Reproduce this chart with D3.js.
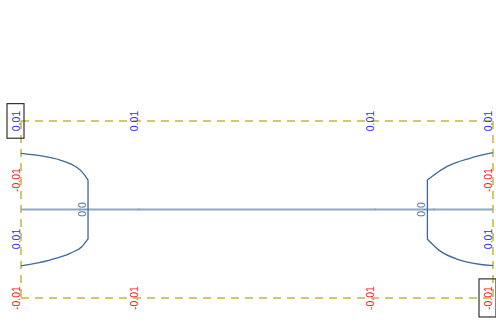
<!DOCTYPE html>
<html>
<head>
<meta charset="utf-8">
<script src="https://cdn.jsdelivr.net/npm/d3@7"></script>
<style>
  body { margin: 0; background: #fff; }
  svg { display: block; font-family: "Liberation Sans", Arial, sans-serif; }
</style>
</head>
<body>
<div id="chart"></div>
<script>
/*------------------- Data --------------------*/
const xDomain = [0, 100];
const yDomain = [-0.01, 0.01];

// columns carrying the top / bottom labels
const edgeTickX = [0, 25, 75, 100];
const topLabels = ["0.01", "0.01", "0.01", "0.01"];
const bottomLabels = ["-0.01", "-0.01", "-0.01", "-0.01"];

// small ticks on the zero line
const zeroTicks = [12.5, 25, 75, 87.5];

// left bracket: upper arc, lower arc (joined by a vertical segment)
const leftTopX = [0, 4.0, 8.3, 11.8, 13.2, 14.2];
const leftTopY = [0.00635, 0.00608, 0.00559, 0.00477, 0.00409, 0.00333];
const leftBotX = [14.2, 12.9, 10.4, 6.1, 0];
const leftBotY = [-0.00333, -0.0042, -0.00495, -0.00571, -0.00638];

// right bracket
const rightTopX = [100, 95.1, 90.2, 87.0, 86.1];
const rightTopY = [0.00642, 0.00579, 0.00484, 0.00371, 0.00333];
const rightBotX = [86.1, 88.6, 93.0, 100];
const rightBotY = [-0.00337, -0.00462, -0.00571, -0.00635];

// labels along the side edges
const sideLabelX = [0, 0, 100, 100];
const sideLabelY = [0.00333, -0.00333, 0.00333, -0.00333];
const sideLabels = ["-0.01", "0.01", "-0.01", "0.01"];

// labels on the zero line
const zeroLabelX = [14.2, 86.1];
const zeroLabels = ["0.0", "0.0"];

/*------------------- Setup --------------------*/
const width = 496, height = 322;
const margin = { top: 121, right: 3, bottom: 24, left: 21 };

const svg = d3.select("#chart").append("svg")
    .attr("width", width)
    .attr("height", height);

const x = d3.scaleLinear().domain(xDomain).range([margin.left, width - margin.right]);
const y = d3.scaleLinear().domain(yDomain).range([height - margin.bottom, margin.top]);

const dashColor = "#c8b43a";
const blue = "#2f2ff5";
const red = "#f52020";

/*------------------- Dashed frame --------------------*/
const frame = svg.append("g")
    .attr("fill", "none")
    .attr("stroke", dashColor)
    .attr("stroke-width", 1.5)
    .attr("stroke-dasharray", "8,6");

frame.append("line")
    .attr("x1", x(xDomain[0])).attr("x2", x(xDomain[1]))
    .attr("y1", y(yDomain[1])).attr("y2", y(yDomain[1]));
frame.append("line")
    .attr("x1", x(xDomain[0])).attr("x2", x(xDomain[1]))
    .attr("y1", y(yDomain[0])).attr("y2", y(yDomain[0]));
frame.append("line")
    .attr("x1", x(xDomain[0])).attr("x2", x(xDomain[0]))
    .attr("y1", y(yDomain[1])).attr("y2", y(yDomain[0]));
frame.append("line")
    .attr("x1", x(xDomain[1])).attr("x2", x(xDomain[1]))
    .attr("y1", y(yDomain[1])).attr("y2", y(yDomain[0]));

/*------------------- Zero line --------------------*/
svg.append("line")
    .attr("x1", x(xDomain[0])).attr("x2", x(xDomain[1]))
    .attr("y1", y(0)).attr("y2", y(0))
    .attr("stroke", "#8fa7c3")
    .attr("stroke-width", 2);

svg.selectAll(".ztick")
    .data(zeroTicks)
    .join("line")
    .attr("class", "ztick")
    .attr("x1", d => x(d)).attr("x2", d => x(d))
    .attr("y1", y(0) - 1.5).attr("y2", y(0) + 1.5)
    .attr("stroke", "#7f98b5")
    .attr("stroke-width", 0.6);

/*------------------- Curves --------------------*/
const arc = d3.line()
    .x(d => x(d[0]))
    .y(d => y(d[1]))
    .curve(d3.curveMonotoneX);

function bracket(topX, topY, botX, botY) {
    const top = d3.zip(topX, topY);
    const bot = d3.zip(botX, botY);
    // vertical joint from the end of the upper arc to the start of the lower arc
    const joint = "L" + x(bot[0][0]) + "," + y(bot[0][1]);
    svg.append("path")
        .attr("d", arc(top) + joint + arc(bot).replace(/^M/, "L"))
        .attr("fill", "none")
        .attr("stroke", "#3d6a98")
        .attr("stroke-width", 1.3);
}

bracket(leftTopX, leftTopY, leftBotX, leftBotY);
bracket(rightTopX, rightTopY, rightBotX, rightBotY);

/*------------------- Labels --------------------*/
function vLabel(px, py, text, color) {
    const g = svg.append("g")
        .attr("transform", `translate(${px - 1},${py}) rotate(-90)`);
    g.append("text")
        .attr("text-anchor", "middle")
        .attr("font-size", 10.5)
        .attr("fill", color)
        .text(text);
    return g;
}

const topGroups = edgeTickX.map((d, i) => vLabel(x(d), y(yDomain[1]), topLabels[i], blue));
const bottomGroups = edgeTickX.map((d, i) => vLabel(x(d), y(yDomain[0]), bottomLabels[i], red));

sideLabels.forEach((t, i) => {
    vLabel(x(sideLabelX[i]), y(sideLabelY[i]), t, t.startsWith("-") ? red : blue);
});

zeroLabels.forEach((t, i) => {
    vLabel(x(zeroLabelX[i]) - 1, y(0), t, "#557799");
});

/*------------------- Highlight boxes --------------------*/
function boxAround(g) {
    const bb = g.select("text").node().getBBox();
    g.insert("rect", "text")
        .attr("x", bb.x - 7)
        .attr("y", bb.y - 3)
        .attr("width", bb.width + 14)
        .attr("height", bb.height + 5)
        .attr("fill", "none")
        .attr("stroke", "#333")
        .attr("stroke-width", 1.2);
}

boxAround(topGroups[0]);
boxAround(bottomGroups[bottomGroups.length - 1]);
</script>
</body>
</html>
